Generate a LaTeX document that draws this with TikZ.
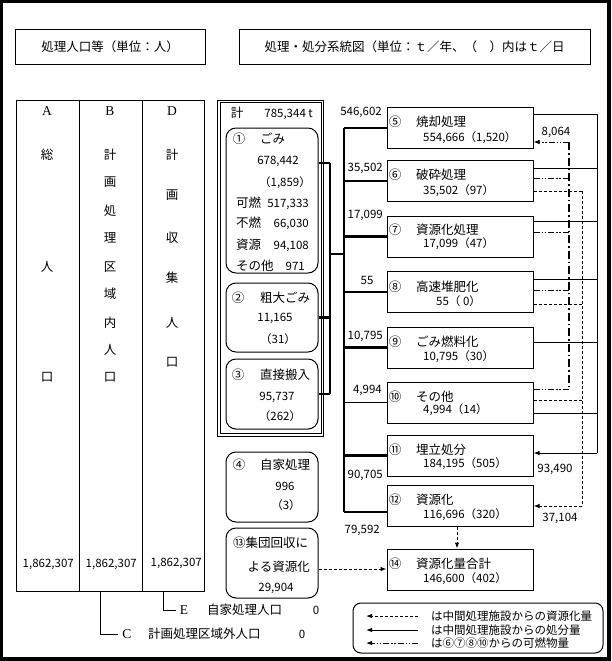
\documentclass[tikz,border=0pt]{standalone}
\usepackage{fontspec}
\setmainfont{Noto Sans CJK JP}
\newfontfamily\serif{Liberation Serif}
\usetikzlibrary{arrows.meta}
\begin{document}
\begin{tikzpicture}[x=1pt,y=-1pt,
  every node/.style={inner sep=0pt, font=\fontsize{12.5}{14}\selectfont, text height=9.5pt, text depth=0pt},
  num/.style={font=\fontsize{11.5}{13}\selectfont},
  ltr/.style={font=\fontsize{13.5}{15}\selectfont\serif},
  box/.style={draw, line width=1pt, minimum width=146pt, minimum height=41pt},
  rbox/.style={draw, line width=1pt, rounded corners=10pt, minimum width=92pt},
  col/.style={draw, line width=1pt, minimum height=491pt},
  thk/.style={line width=2.6pt},
  mid/.style={line width=1.6pt},
  thn/.style={line width=1pt},
  ds/.style={line width=1pt, dash pattern=on 3pt off 2pt},
  dd/.style={line width=1pt, dash pattern=on 6pt off 2pt on 1.5pt off 1.5pt on 1.5pt off 2pt},
  ddv/.style={line width=2.2pt, dash pattern=on 8pt off 3pt on 1.5pt off 3pt},
  arr/.style={-{Latex[length=6pt,width=4.5pt]}},
  small/.style={font=\fontsize{11.5}{13}\selectfont}
]
% frame
\fill[black] (0,0) rectangle (611,661);
\fill[white] (3,3) rectangle (607,657);
\useasboundingbox (0,0) rectangle (611,661);

% headers
\node[draw, line width=0.8pt, minimum width=190pt, minimum height=35pt] (h1) at (110,47) {処理人口等（単位：人）};
\node[draw, line width=0.8pt, minimum width=351pt, minimum height=35pt] (h2) at (414.5,47) {処理・処分系統図（単位：ｔ／年、（　）内はｔ／日};

% population table
\node[col, minimum width=63pt] (colA) at (47.5,345.5) {};
\node[col, minimum width=63pt] (colB) at (110.5,345.5) {};
\node[col, minimum width=62pt] (colD) at (173,345.5) {};
\node[ltr] (hA) at (47,111) {A};
\node[ltr] (hB) at (110,111) {B};
\node[ltr] (hD) at (172,111) {D};
\foreach \c/\y [count=\i] in {総/155,人/267,口/377}
  \node (ca\i) at (47,\y) {\c};
\foreach \c/\y [count=\i] in {計/155,画/182,処/211,理/238,区/267,域/294,内/323,人/350,口/377}
  \node (cb\i) at (110,\y) {\c};
\foreach \c/\y [count=\i] in {計/155,画/195,収/238,集/278,人/323,口/362}
  \node (cd\i) at (172,\y) {\c};
\node[num, anchor=east] (vA) at (74,563) {1,862,307};
\node[num, anchor=east] (vB) at (137,563) {1,862,307};
\node[num, anchor=east] (vD) at (202,562) {1,862,307};

% C and E labels
\coordinate (cB) at (100,591);
\coordinate (cE) at (163,591);
\node[ltr] (labE) at (184,610) {E};
\node[anchor=west] (txtE) at (207,610) {自家処理人口};
\node[num] (zeroE) at (316,610) {0};
\node[ltr] (labC) at (127,634) {C};
\node[anchor=west] (txtC) at (148,634) {計画処理区域外人口};
\node[num] (zeroC) at (302,634) {0};
\draw[thn] (cE) |- ([xshift=-4pt]labE.west);
\draw[thn] (cB) |- ([xshift=-4pt]labC.west);

% double box with waste categories
\node[draw, line width=0.9pt, minimum width=106pt, minimum height=336pt] (outerbox) at (270.5,268) {};
\node[draw, line width=0.9pt, minimum width=100.5pt, minimum height=331pt] (innerbox) at (270.75,268) {};
\node (kei) at (237,113) {計};
\node[num, anchor=east] (keiv) at (313,113) {785,344 t};

\node[rbox, minimum height=145pt] (r1) at (272,200.5) {};
\node (r1n) at (239,139) {①};
\node[anchor=west] (r1t) at (260,139) {ごみ};
\node[num] (r1v) at (278,160) {678,442};
\node[num] (r1d) at (285,182) {（1,859）};
\node[anchor=west] (r1a) at (236,203) {可燃};
\node[num, anchor=east] (r1av) at (309,203) {517,333};
\node[anchor=west] (r1b) at (236,223) {不燃};
\node[num, anchor=east] (r1bv) at (309,223) {66,030};
\node[anchor=west] (r1c) at (236,245) {資源};
\node[num, anchor=east] (r1cv) at (309,245) {94,108};
\node[anchor=west] (r1e) at (236,266) {その他};
\node[num, anchor=east] (r1ev) at (305,266) {971};

\node[rbox, minimum height=69pt] (r2) at (272,317.5) {};
\node (r2n) at (238,298) {②};
\node[anchor=west] (r2t) at (260,298) {粗大ごみ};
\node[num] (r2v) at (275,317) {11,165};
\node[num] (r2d) at (278,339) {（31）};

\node[rbox, minimum height=70pt] (r3) at (272,394) {};
\node (r3n) at (238,375) {③};
\node[anchor=west] (r3t) at (260,375) {直接搬入};
\node[num] (r3v) at (277,396) {95,737};
\node[num] (r3d) at (280,416) {（262）};

\node[rbox, minimum height=70pt] (r4) at (272,487) {};
\node (r4n) at (239,465) {④};
\node[anchor=west] (r4t) at (260,465) {自家処理};
\node[num] (r4v) at (285,486) {996};
\node[num] (r4d) at (286,505) {（3）};

\node[rbox, minimum height=70pt] (r13) at (272,563) {};
\node[anchor=west] (r13t) at (233,543) {⑬集団回収に};
\node[anchor=east] (r13u) at (310,567) {よる資源化};
\node[num] (r13v) at (276,587) {29,904};

% processing boxes
\node[box] (b5) at (460,128) {};
\node[box] (b6) at (460,181) {};
\node[box] (b7) at (460,236.5) {};
\node[box] (b8) at (460,292) {};
\node[box] (b9) at (460,347.5) {};
\node[box] (b10) at (460,402.5) {};
\node[box] (b11) at (460,455.5) {};
\node[box] (b12) at (460,505.5) {};
\node[box] (b14) at (460,569.5) {};

\node[anchor=west] (t5) at (416,122) {焼却処理};
\node[num, anchor=west] (v5) at (423,137) {554,666（1,520）};
\node[anchor=west] (t6) at (416,175) {破砕処理};
\node[num, anchor=west] (v6) at (423,190) {35,502（97）};
\node[anchor=west] (t7) at (416,230) {資源化処理};
\node[num, anchor=west] (v7) at (423,243) {17,099（47）};
\node[anchor=west] (t8) at (416,287) {高速堆肥化};
\node[num, anchor=west] (v8) at (436,301) {55（ 0）};
\node[anchor=west] (t9) at (416,342) {ごみ燃料化};
\node[num, anchor=west] (v9) at (423,356) {10,795（30）};
\node[anchor=west] (t10) at (416,397) {その他};
\node[num, anchor=west] (v10) at (423,409) {4,994（14）};
\node[anchor=west] (t11) at (416,450) {埋立処分};
\node[num, anchor=west] (v11) at (423,463) {184,195（505）};
\node[anchor=west] (t12) at (416,500) {資源化};
\node[num, anchor=west] (v12) at (423,514) {116,696（320）};
\node[anchor=west] (t14) at (416,564) {資源化量合計};
\node[num, anchor=west] (v14) at (423,578) {146,600（402）};
\node (n5) at (395,122) {⑤};
\node (n6) at (395,175) {⑥};
\node (n7) at (395,230) {⑦};
\node (n8) at (395,287) {⑧};
\node (n9) at (395,342) {⑨};
\node (n10) at (395,397) {⑩};
\node (n11) at (395,450) {⑪};
\node (n12) at (395,500) {⑫};
\node (n14) at (395,564) {⑭};

% left connectors
\coordinate (v1) at (330,163);
\coordinate (v3) at (330,394);
\coordinate (vj) at (330,254);
\coordinate (bj) at (344,254);
\coordinate (bt) at (344,128);
\coordinate (bb) at (344,512);
\draw[thk] (r1.east |- v1) -- (v1);
\draw[thk] (r2.east) -- (r2.east -| v1);
\draw[thk] (r3.east |- v3) -- (v3);
\draw[mid] (v1) -- (v3);
\draw[thk] (vj) -- (bj);
\draw[mid] (bt) -- (bb);
\draw[thk] (bt) -- (b5.west |- bt);
\draw[thk] (b6.west -| bt) -- (b6.west);
\draw[thk] (b7.west -| bt) -- (b7.west);
\draw[thk] (b8.west -| bt) -- (b8.west);
\draw[thk] (b9.west -| bt) -- (b9.west);
\draw[thn] (b10.west -| bt) -- (b10.west);
\draw[thk] (b11.west -| bt) -- (b11.west);
\draw[thk] (bb) -- (b12.west |- bb);

\node[num, anchor=east] (l5) at (382,111) {546,602};
\node[num, anchor=east] (l6) at (383,167) {35,502};
\node[num, anchor=east] (l7) at (383,214) {17,099};
\node[num] (l8) at (367,280) {55};
\node[num, anchor=east] (l9) at (383,335) {10,795};
\node[num, anchor=east] (l10) at (382,389) {4,994};
\node[num, anchor=east] (l11) at (383,474) {90,705};
\node[num, anchor=east] (l12) at (380,529) {79,592};

% right side: disposal (solid)
\coordinate (rs5) at (597,114);
\coordinate (rs6) at (597,168);
\coordinate (rs7) at (597,221);
\coordinate (rs8) at (597,279);
\coordinate (rs9) at (597,342);
\coordinate (rs10) at (597,413);
\coordinate (rs11) at (597,453);
\draw[thn] (rs5) -- (rs11);
\foreach \k in {5,6,7,8,9,10}
  \draw[thn] (b\k.east |- rs\k) -- (rs\k);
\draw[thn,arr] (rs11) -- (b11.east |- rs11);

% combustibles (dash-dot)
\coordinate (dd5) at (569,142);
\coordinate (dd6) at (569,178);
\coordinate (dd7) at (569,232);
\coordinate (dd8) at (569,290);
\coordinate (dd10) at (569,389);
\draw[ddv] (dd5) -- (dd10);
\foreach \k in {6,7,8,10}
  \draw[dd] (b\k.east |- dd\k) -- (dd\k);
\draw[dd,arr] (dd5) -- (b5.east |- dd5);

% resources (dashed)
\coordinate (ds6) at (582,191);
\coordinate (ds8) at (582,304);
\coordinate (ds10) at (582,400);
\coordinate (ds12) at (582,506);
\draw[ds] (ds6) -- (ds12);
\foreach \k in {6,8,10}
  \draw[ds] (b\k.east |- ds\k) -- (ds\k);
\draw[ds,arr] (ds12) -- (b12.east |- ds12);

\node[num] (q5) at (556,131) {8,064};
\node[num] (q11) at (555,468) {93,490};
\node[num] (q12) at (560,517) {37,104};

% to total
\coordinate (a12) at (457,0);
\coordinate (a13) at (0,569);
\draw[ds,arr] (b12.south -| a12) -- (b14.north -| a12);
\draw[ds,arr] (r13.east |- a13) -- (b14.west |- a13);

% legend
\node[draw, line width=1pt, rounded corners=8pt, minimum width=250pt, minimum height=50pt] (leg) at (478,628) {};
\node[anchor=west, small] (lg1) at (431,616) {は中間処理施設からの資源化量};
\node[anchor=west, small] (lg2) at (431,630) {は中間処理施設からの処分量};
\node[anchor=west, small] (lg3) at (431,643) {は⑥⑦⑧⑩からの可燃物量};
\coordinate (ls1) at (418,616);
\coordinate (le1) at (366,616);
\coordinate (ls2) at (418,630);
\coordinate (le2) at (366,630);
\coordinate (ls3) at (418,643);
\coordinate (le3) at (366,643);
\draw[ds,arr] (ls1) -- (le1);
\draw[thn,arr] (ls2) -- (le2);
\draw[dd,arr] (ls3) -- (le3);
\end{tikzpicture}
\end{document}
